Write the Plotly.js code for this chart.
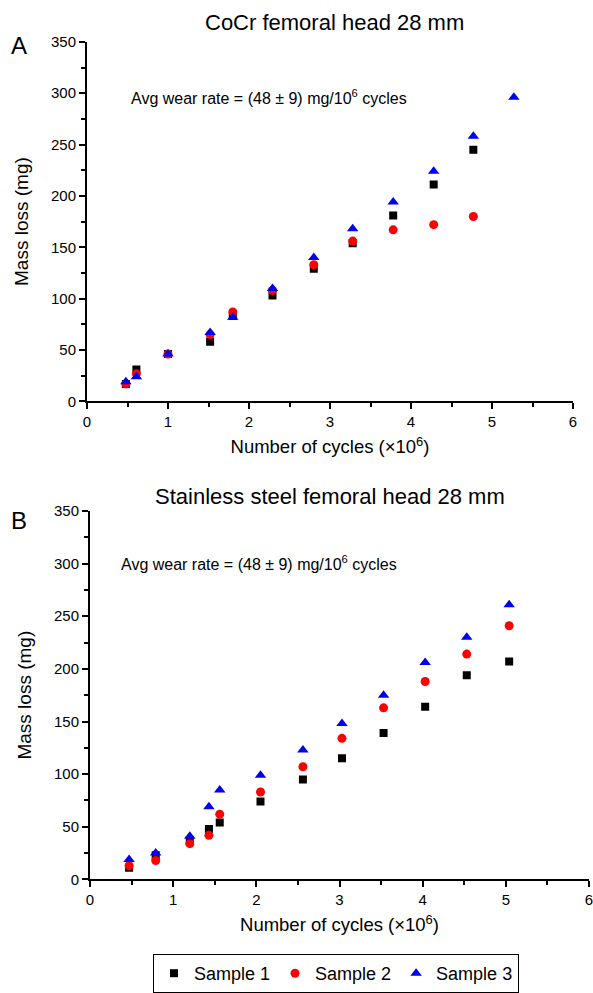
<!DOCTYPE html>
<html>
<head>
<meta charset="utf-8">
<script src="https://cdn.plot.ly/plotly-3.0.1.min.js"></script>
<style>html,body{margin:0;padding:0;background:#fff;}#chart{width:593px;height:993px;}</style>
</head>
<body>
<div id="chart"></div>
<script>
// ---- Data: panel A (CoCr femoral head 28 mm) ----
const cocrS1x = [0.48, 0.61, 1.0, 1.52, 1.8, 2.29, 2.8, 3.28, 3.78, 4.28, 4.77];
const cocrS1y = [17, 31, 46, 58, 83, 103, 129, 154, 181, 211, 245];
const cocrS2x = [0.48, 0.61, 1.0, 1.52, 1.8, 2.29, 2.8, 3.28, 3.78, 4.28, 4.77];
const cocrS2y = [17, 27, 46, 65, 87, 108, 133, 156, 167, 172, 180];
const cocrS3x = [0.48, 0.61, 1.0, 1.52, 1.8, 2.29, 2.8, 3.28, 3.78, 4.28, 4.77, 5.27];
const cocrS3y = [19, 24, 46, 67, 82, 110, 140, 168, 194, 224, 258, 296];

// ---- Data: panel B (Stainless steel femoral head 28 mm) ----
const ssS1x = [0.47, 0.79, 1.2, 1.43, 1.56, 2.05, 2.56, 3.03, 3.53, 4.03, 4.53, 5.04];
const ssS1y = [11, 23, 37, 48, 54, 74, 95, 115, 139, 164, 194, 207];
const ssS2x = [0.47, 0.79, 1.2, 1.43, 1.56, 2.05, 2.56, 3.03, 3.53, 4.03, 4.53, 5.04];
const ssS2y = [13, 18, 34, 42, 62, 83, 107, 134, 163, 188, 214, 241];
const ssS3x = [0.47, 0.79, 1.2, 1.43, 1.56, 2.05, 2.56, 3.03, 3.53, 4.03, 4.53, 5.04];
const ssS3y = [19, 25, 41, 69, 85, 99, 123, 148, 175, 206, 230, 261];

const seriesNames = ["Sample 1", "Sample 2", "Sample 3"];
const panelTitles = ["CoCr femoral head 28 mm", "Stainless steel femoral head 28 mm"];
const panelLetters = ["A", "B"];
const rateText = "Avg wear rate = (48 \u00b1 9) mg/10<sup>6</sup> cycles";
const xTitle = "Number of cycles (\u00d710<sup>6</sup>)";
const yTitle = "Mass loss (mg)";

// ---- Layout helpers (pixel -> paper) ----
const W = 593, H = 993;
const px = v => v / W;
const py = v => (H - v) / H;

const FONT = "Liberation Sans, Arial, Helvetica, sans-serif";
const styles = [
  {symbol: "square", color: "#000000", size: 8},
  {symbol: "circle", color: "#ff0000", size: 9},
  {symbol: "triangle-up", color: "#0000ee", size: 10}
];

function tr(x, y, i, xa, ya, show) {
  return {
    x: x, y: y, type: "scatter", mode: "markers", name: seriesNames[i],
    xaxis: xa, yaxis: ya, showlegend: show,
    marker: {symbol: styles[i].symbol, color: styles[i].color, size: styles[i].size, line: {width: 0}}
  };
}

const data = [
  tr(cocrS1x, cocrS1y, 0, "x", "y", true),
  tr(cocrS2x, cocrS2y, 1, "x", "y", true),
  tr(cocrS3x, cocrS3y, 2, "x", "y", true),
  tr(ssS1x, ssS1y, 0, "x2", "y2", false),
  tr(ssS2x, ssS2y, 1, "x2", "y2", false),
  tr(ssS3x, ssS3y, 2, "x2", "y2", false)
];

function xAxis(domain, anchor) {
  return {
    domain: domain, anchor: anchor, range: [0, 6], dtick: 1, tick0: 0,
    showgrid: false, zeroline: false, showline: true, linecolor: "#000", linewidth: 2,
    ticks: "outside", ticklen: 6, tickwidth: 2, tickcolor: "#000",
    minor: {dtick: 0.5, tick0: 0, ticks: "outside", ticklen: 4, tickwidth: 2, tickcolor: "#000", showgrid: false},
    tickfont: {family: FONT, size: 15, color: "#000"},
    ticklabeloverflow: "allow",
    title: {text: xTitle, font: {family: FONT, size: 18.5, color: "#000"}, standoff: 11},
    fixedrange: true
  };
}
function yAxis(domain, anchor) {
  return {
    domain: domain, anchor: anchor, range: [0, 350], dtick: 50, tick0: 0,
    showgrid: false, zeroline: false, showline: true, linecolor: "#000", linewidth: 2,
    ticks: "outside", ticklen: 6, tickwidth: 2, tickcolor: "#000",
    minor: {dtick: 25, tick0: 0, ticks: "outside", ticklen: 4, tickwidth: 2, tickcolor: "#000", showgrid: false},
    tickfont: {family: FONT, size: 15, color: "#000"},
    ticklabeloverflow: "allow",
    title: {text: yTitle, font: {family: FONT, size: 19, color: "#000"}, standoff: 17},
    fixedrange: true
  };
}

const ann = (x, y, text, size, xanchor) => ({
  xref: "paper", yref: "paper", x: px(x), y: py(y), text: text, showarrow: false,
  xanchor: xanchor || "center", yanchor: "middle", font: {family: FONT, size: size, color: "#000"}
});

const layout = {
  width: W, height: H,
  margin: {l: 0, r: 0, t: 0, b: 0},
  paper_bgcolor: "#fff", plot_bgcolor: "#fff",
  showlegend: true,
  xaxis: xAxis([px(87), px(573)], "y"),
  yaxis: yAxis([py(403), py(42)], "x"),
  xaxis2: xAxis([px(90), px(589)], "y2"),
  yaxis2: yAxis([py(883), py(513)], "x2"),
  annotations: [
    ann(334, 23, panelTitles[0], 22),
    ann(330, 499, panelTitles[1], 22),
    ann(19, 46, panelLetters[0], 24),
    ann(19, 523, panelLetters[1], 24),
    ann(129, 97, rateText, 16, "left"),
    ann(119, 565, rateText, 16, "left")
  ],
  legend: {
    orientation: "h", x: px(336), xanchor: "center", y: py(958), yanchor: "top",
    bordercolor: "#000", borderwidth: 1, bgcolor: "#fff",
    font: {family: FONT, size: 18, color: "#000"},
    traceorder: "normal"
  }
};

Plotly.newPlot("chart", data, layout, {staticPlot: true, displayModeBar: false});
</script>
</body>
</html>
